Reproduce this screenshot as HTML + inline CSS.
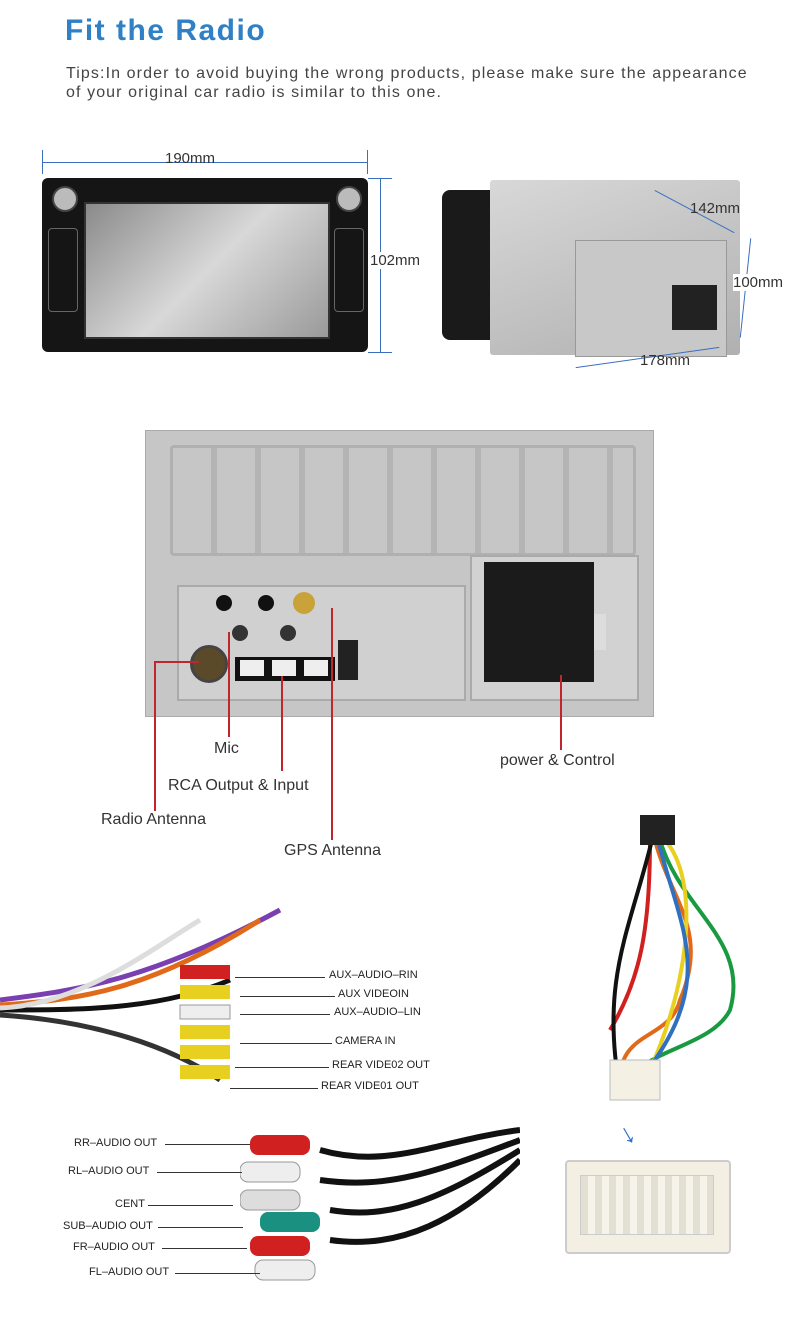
<!DOCTYPE html>
<html><head><meta charset="utf-8"><style>
body{margin:0;width:800px;height:1330px;background:#fff;position:relative;font-family:"Liberation Sans",sans-serif;overflow:hidden}
.a{position:absolute}
.t{position:absolute;font-size:15px;color:#333;white-space:nowrap}
.s{position:absolute;font-size:11px;color:#222;white-space:nowrap}
.rl{position:absolute;background:#c0262c}
.bl{position:absolute;background:#3a6fc0}
.k{position:absolute;height:1px;background:#333}
</style></head><body>
<div class="a" style="left:65px;top:14px;font-size:30px;letter-spacing:1.5px;font-weight:bold;color:#2f80c4">Fit the Radio</div>
<div class="a" style="left:66px;top:64px;font-size:16px;color:#444;letter-spacing:1.1px;line-height:19px;width:740px;white-space:nowrap">Tips:In order to avoid buying the wrong products, please make sure the appearance<br>of your original car radio is similar to this one.</div>

<!-- front radio -->
<div class="bl" style="left:42px;top:162px;width:326px;height:1px"></div>
<div class="bl" style="left:42px;top:150px;width:1px;height:24px"></div>
<div class="bl" style="left:367px;top:150px;width:1px;height:24px"></div>
<div class="t" style="left:165px;top:150px;font-size:15px">190mm</div>
<div class="bl" style="left:380px;top:178px;width:1px;height:174px"></div>
<div class="bl" style="left:368px;top:178px;width:24px;height:1px"></div>
<div class="bl" style="left:368px;top:352px;width:24px;height:1px"></div>
<div class="t" style="left:370px;top:252px;background:#fff">102mm</div>
<div class="a" style="left:42px;top:178px;width:326px;height:174px;background:#151515;border-radius:6px"></div>
<div class="a" style="left:84px;top:202px;width:242px;height:133px;background:linear-gradient(135deg,#8a8a8a,#d8d8d8 50%,#9a9a9a);border:2px solid #333"></div>
<div class="a" style="left:52px;top:186px;width:22px;height:22px;border-radius:50%;background:#bbb;border:2px solid #444"></div>
<div class="a" style="left:336px;top:186px;width:22px;height:22px;border-radius:50%;background:#bbb;border:2px solid #444"></div>
<div class="a" style="left:48px;top:228px;width:28px;height:82px;border:1px solid #666;border-radius:4px"></div>
<div class="a" style="left:334px;top:228px;width:28px;height:82px;border:1px solid #666;border-radius:4px"></div>

<!-- side unit -->
<div class="a" style="left:442px;top:190px;width:60px;height:150px;background:#1a1a1a;border-radius:8px"></div>
<div class="a" style="left:490px;top:180px;width:250px;height:175px;background:linear-gradient(160deg,#d8d8d8,#b0b0b0);border-radius:3px"></div>
<div class="a" style="left:575px;top:240px;width:150px;height:115px;background:#c8c8c8;border:1px solid #999"></div>
<div class="a" style="left:672px;top:285px;width:45px;height:45px;background:#222"></div>
<div class="bl" style="left:655px;top:190px;width:90px;height:1px;transform:rotate(28deg);transform-origin:0 0"></div>
<div class="t" style="left:690px;top:200px">142mm</div>
<div class="bl" style="left:745px;top:238px;width:1px;height:100px;transform:rotate(6deg)"></div>
<div class="t" style="left:733px;top:274px;background:#fff">100mm</div>
<div class="bl" style="left:575px;top:357px;width:145px;height:1px;transform:rotate(-8deg)"></div>
<div class="t" style="left:640px;top:352px">178mm</div>

<!-- back panel -->
<div class="a" style="left:145px;top:430px;width:507px;height:285px;background:#c6c6c6;border:1px solid #aaa"></div>
<div class="a" style="left:170px;top:445px;width:460px;height:105px;border:3px solid #b0b0b0;border-radius:4px;background:repeating-linear-gradient(90deg,#c6c6c6 0 38px,#b4b4b4 38px 44px)"></div>
<div class="a" style="left:177px;top:585px;width:285px;height:112px;background:#d0d0d0;border:2px solid #aaa"></div>
<div class="a" style="left:470px;top:555px;width:165px;height:142px;background:#d2d2d2;border:2px solid #aaa"></div>
<div class="a" style="left:484px;top:562px;width:110px;height:120px;background:#1b1b1b"></div>
<div class="a" style="left:594px;top:614px;width:12px;height:36px;background:#ddd"></div>
<div class="a" style="left:190px;top:645px;width:32px;height:32px;border-radius:50%;background:#5a4a2a;border:3px solid #444"></div>
<div class="a" style="left:216px;top:595px;width:16px;height:16px;border-radius:50%;background:#111"></div>
<div class="a" style="left:258px;top:595px;width:16px;height:16px;border-radius:50%;background:#111"></div>
<div class="a" style="left:293px;top:592px;width:22px;height:22px;border-radius:50%;background:#c9a23a"></div>
<div class="a" style="left:232px;top:625px;width:16px;height:16px;border-radius:50%;background:#333"></div>
<div class="a" style="left:280px;top:625px;width:16px;height:16px;border-radius:50%;background:#333"></div>
<div class="a" style="left:235px;top:657px;width:100px;height:24px;background:#111"></div>
<div class="a" style="left:240px;top:660px;width:24px;height:16px;background:#eee"></div>
<div class="a" style="left:272px;top:660px;width:24px;height:16px;background:#eee"></div>
<div class="a" style="left:304px;top:660px;width:24px;height:16px;background:#eee"></div>
<div class="a" style="left:338px;top:640px;width:20px;height:40px;background:#222"></div>

<div class="rl" style="left:154px;top:661px;width:2px;height:150px"></div>
<div class="rl" style="left:154px;top:661px;width:45px;height:2px"></div>
<div class="rl" style="left:228px;top:632px;width:2px;height:105px"></div>
<div class="rl" style="left:281px;top:676px;width:2px;height:95px"></div>
<div class="rl" style="left:331px;top:608px;width:2px;height:232px"></div>
<div class="rl" style="left:560px;top:675px;width:2px;height:75px"></div>
<div class="t" style="left:214px;top:740px;font-size:16px">Mic</div>
<div class="t" style="left:168px;top:777px;font-size:16px">RCA Output &amp; Input</div>
<div class="t" style="left:101px;top:811px;font-size:16px">Radio Antenna</div>
<div class="t" style="left:284px;top:842px;font-size:16px">GPS Antenna</div>
<div class="t" style="left:500px;top:752px;font-size:16px">power &amp; Control</div>

<!-- cable bundle 1 -->
<svg class="a" style="left:0;top:890px" width="300" height="210">
<g stroke-width="5" fill="none">
<path d="M0 110 C80 100 150 90 280 20" stroke="#7a3fb0"/>
<path d="M0 115 C80 110 150 100 260 30" stroke="#e06a1a"/>
<path d="M0 120 C80 120 160 120 230 90" stroke="#111"/>
<path d="M0 125 C80 130 160 150 220 190" stroke="#333"/>
<path d="M0 118 C80 115 150 60 200 30" stroke="#ddd"/>
</g>
<rect x="180" y="75" width="50" height="14" fill="#d02020"/>
<rect x="180" y="95" width="50" height="14" fill="#e8d020"/>
<rect x="180" y="115" width="50" height="14" fill="#eee" stroke="#999"/>
<rect x="180" y="135" width="50" height="14" fill="#e8d020"/>
<rect x="180" y="155" width="50" height="14" fill="#e8d020"/>
<rect x="180" y="175" width="50" height="14" fill="#e8d020"/>
</svg>
<div class="k" style="left:235px;top:977px;width:90px"></div><div class="s" style="left:329px;top:969px">AUX–AUDIO–RIN</div>
<div class="k" style="left:240px;top:996px;width:95px"></div><div class="s" style="left:338px;top:988px">AUX VIDEOIN</div>
<div class="k" style="left:240px;top:1014px;width:90px"></div><div class="s" style="left:334px;top:1006px">AUX–AUDIO–LIN</div>
<div class="k" style="left:240px;top:1043px;width:92px"></div><div class="s" style="left:335px;top:1035px">CAMERA IN</div>
<div class="k" style="left:235px;top:1067px;width:94px"></div><div class="s" style="left:332px;top:1059px">REAR VIDE02 OUT</div>
<div class="k" style="left:230px;top:1088px;width:88px"></div><div class="s" style="left:321px;top:1080px">REAR VIDE01 OUT</div>

<!-- cable bundle 2 -->
<svg class="a" style="left:240px;top:1110px" width="280" height="180">
<g stroke-width="6" fill="none" stroke="#111">
<path d="M80 40 C150 60 200 30 280 20"/><path d="M80 70 C150 80 200 60 280 30"/>
<path d="M90 100 C150 110 200 90 280 40"/><path d="M90 130 C160 140 220 110 280 50"/>
</g>
<rect x="10" y="25" width="60" height="20" rx="8" fill="#d02020"/>
<rect x="0" y="52" width="60" height="20" rx="8" fill="#eee" stroke="#999"/>
<rect x="0" y="80" width="60" height="20" rx="8" fill="#ddd" stroke="#999"/>
<rect x="20" y="102" width="60" height="20" rx="8" fill="#1a9080"/>
<rect x="10" y="126" width="60" height="20" rx="8" fill="#d02020"/>
<rect x="15" y="150" width="60" height="20" rx="8" fill="#eee" stroke="#999"/>
</svg>
<div class="k" style="left:165px;top:1144px;width:85px"></div><div class="s" style="left:74px;top:1137px">RR–AUDIO OUT</div>
<div class="k" style="left:157px;top:1172px;width:85px"></div><div class="s" style="left:68px;top:1165px">RL–AUDIO OUT</div>
<div class="k" style="left:148px;top:1205px;width:85px"></div><div class="s" style="left:115px;top:1198px">CENT</div>
<div class="k" style="left:158px;top:1227px;width:85px"></div><div class="s" style="left:63px;top:1220px">SUB–AUDIO OUT</div>
<div class="k" style="left:162px;top:1248px;width:85px"></div><div class="s" style="left:73px;top:1241px">FR–AUDIO OUT</div>
<div class="k" style="left:175px;top:1273px;width:85px"></div><div class="s" style="left:89px;top:1266px">FL–AUDIO OUT</div>

<!-- harness right -->
<svg class="a" style="left:580px;top:780px" width="210" height="330">
<g stroke-width="4" fill="none">
<path d="M75 60 C90 120 130 150 100 220 C90 260 40 250 40 300" stroke="#e06a1a"/>
<path d="M80 60 C100 130 170 160 150 230 C130 270 50 270 50 310" stroke="#1a9a40"/>
<path d="M70 60 C70 150 60 200 30 250" stroke="#d02020"/>
<path d="M85 60 C120 100 110 200 70 290" stroke="#e8d020"/>
<path d="M78 60 C100 150 140 200 60 300" stroke="#3070c0"/>
<path d="M72 60 C50 150 20 200 40 310" stroke="#111"/>
</g>
<rect x="60" y="35" width="35" height="30" fill="#222"/>
<rect x="30" y="280" width="50" height="40" fill="#f4f0e4" stroke="#bbb"/>
</svg>
<div class="a" style="left:620px;top:1118px;font-size:28px;color:#2a6fd0;transform:rotate(-30deg)">↓</div>
<div class="a" style="left:565px;top:1160px;width:162px;height:90px;background:#f3efe2;border:2px solid #ccc;border-radius:4px"></div>
<div class="a" style="left:580px;top:1175px;width:132px;height:58px;background:repeating-linear-gradient(90deg,#e3dfd2 0 7px,#f6f3ea 7px 14px);border:1px solid #ccc"></div>
</body></html>
